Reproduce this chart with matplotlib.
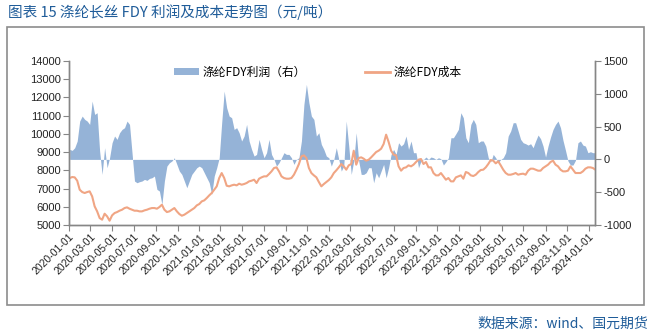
import numpy as np
import pandas as pd
import matplotlib
matplotlib.use('Agg')
import matplotlib.pyplot as plt
import matplotlib.dates as mdates
from matplotlib.patches import Rectangle, Patch
from matplotlib.lines import Line2D

# 中文字体
plt.rcParams['font.family'] = ['Liberation Sans', 'Noto Sans CJK SC', 'DejaVu Sans']
plt.rcParams['axes.unicode_minus'] = False

# 周度数据 2020-01-03 起
START_DATE = '2020-01-03'

# 涤纶FDY利润（右轴，元/吨）
profit = [
    152, 137, 178, 280, 584, 660, 610, 584, 533, 889, 686, 711, 127, -229, 178, -127,
    25, 254, 356, 305, 406, 457, 483, 584, 533, 102, -330, -356, -340, -330, -305, -320,
    -290, -280, -254, -457, -483, -686, -330, -102, -51, -25, 25, -76, -178, -229, -330, -432,
    -330, -229, -178, -127,
    -102, -127, -203, -280, -356, -533, -254, -127, 25, 559, 1041, 787, 660, 635, 457, 483,
    406, 280, 356, 533, 280, 152, 51, 76, 305, 152, 25, 102, 305, 76, 0, -102,
    -51, 25, 102, 76, 76, 25, -76, 0, 25, 280, 838, 1143, 864, 660, 610, 356,
    406, 229, 152, 51, 25,
    -102, 0, 178, 0, -178, -102, 584, 203, -229, -25, 406, -25, -229, -229, -203, -127,
    -127, -356, -203, -280, -178, -76, -280, -127, 76, 152, 76, 254, 203, 239, 356, 152,
    280, 102, 102, -127, -25, 0, 36, 0, 36, 25, 0, 25, 10, -86, -36, 25,
    330, 330, 391, 457, 711,
    635, 330, 254, 533, 610, 533, 254, 280, 280, 203, 25, -36, 76, 25, -51, 0,
    25, 102, 356, 432, 559, 559, 432, 305, 254, 239, 218, 239, 178, 280, 371, 315,
    203, 36, 203, 340, 457, 533, 584, 483, 290, 137, -25, -86, -86, -15, 254, 280,
    218, 203, 102, 117, 102, 102,
]

# 涤纶FDY成本（左轴，元/吨）
cost = [
    7577, 7632, 7614, 7431, 6937, 6808, 6754, 6808, 6845, 6570, 6022, 5747, 5381, 5290, 5619, 5473,
    5235, 5527, 5655, 5710, 5784, 5838, 5930, 5967, 5893, 5838, 5784, 5784, 5747, 5747, 5802, 5838,
    5893, 5930, 5930, 5893, 5985, 6113, 5838, 5710, 5747, 5838, 5930, 5747, 5601, 5509, 5564, 5655,
    5747, 5838, 5930, 6076,
    6150, 6296, 6351, 6479, 6625, 6754, 6937, 7120, 7577, 7850, 7577, 7156, 7120, 7174, 7211, 7174,
    7266, 7211, 7248, 7303, 7394, 7431, 7485, 7303, 7540, 7614, 7669, 7669, 7797, 7943, 8126, 8163,
    7943, 7669, 7577, 7540, 7540, 7577, 7760, 8035, 8346, 8767, 8821, 8675, 8126, 7850, 7723, 7614,
    7358, 7120, 7248, 7358, 7467,
    7614, 7850, 7998, 8163, 8346, 8218, 8035, 8273, 8346, 9078, 8310, 8675, 8712, 8638, 8529, 8584,
    8712, 8858, 9004, 9078, 9187, 9444, 9956, 9554, 9078, 8858, 8821, 8218, 7980, 8126, 8163, 8273,
    8218, 8310, 8456, 8584, 8620, 8346, 8456, 8163, 8163, 7850, 7723, 7723, 7850, 7669, 7485, 7577,
    7394, 7394, 7614, 7669, 7723,
    7540, 7907, 7852, 7723, 7687, 7760, 7907, 8016, 8035, 8163, 8346, 8565, 8529, 8383, 8492, 8273,
    8035, 7852, 7760, 7760, 7797, 7852, 7760, 7797, 7815, 7760, 7980, 8090, 8090, 8035, 7980, 7980,
    8126, 8218, 8310, 8456, 8529, 8310, 8218, 8035, 7943, 7943, 7980, 8218, 8035, 7852, 7852, 7852,
    7943, 8090, 8163, 8163, 8126, 8035,
]

PROFIT_LABEL = '涤纶FDY利润（右）'
COST_LABEL = '涤纶FDY成本'
TITLE = '图表 15 涤纶长丝 FDY 利润及成本走势图（元/吨）'
SOURCE = '数据来源：wind、国元期货'

BLUE_FILL = '#95B3D7'
ORANGE = '#F0A584'
TEXT_BLUE = '#1F5C99'
AXIS_GREY = '#868686'
CJK = ['Noto Sans CJK SC', 'DejaVu Sans']


def main():
    dates = pd.date_range(START_DATE, periods=len(cost), freq='7D')

    fig = plt.figure(figsize=(6.58, 3.36), dpi=100)
    ax = fig.add_axes([0.1049, 0.3304, 0.7994, 0.4881])
    ax2 = ax.twinx()
    # 成本线画在利润面积之上
    ax.set_zorder(ax2.get_zorder() + 1)
    ax.patch.set_visible(False)

    ax2.fill_between(dates, 0, profit, color=BLUE_FILL, lw=0)
    ax.plot(dates, cost, color=ORANGE, lw=1.5)

    ax.set_ylim(5000, 14000)
    ax.set_yticks(np.arange(5000, 14001, 1000))
    ax2.set_ylim(-1000, 1500)
    ax2.set_yticks(np.arange(-1000, 1501, 500))

    ax.set_xlim(pd.Timestamp('2020-01-01'), pd.Timestamp('2024-01-18'))
    ax.xaxis.set_major_locator(mdates.MonthLocator(bymonth=[1, 3, 5, 7, 9, 11]))
    ax.xaxis.set_major_formatter(mdates.DateFormatter('%Y-%m-%d'))
    for lbl in ax.get_xticklabels():
        lbl.set_rotation(45)
        lbl.set_ha('right')
        lbl.set_rotation_mode('anchor')

    for a in (ax, ax2):
        a.spines['top'].set_visible(False)
        for side in ('left', 'right', 'bottom'):
            a.spines[side].set_color(AXIS_GREY)
            a.spines[side].set_linewidth(1.0)
        a.tick_params(axis='both', direction='out', length=4, width=0.8,
                      color=AXIS_GREY, labelsize=8, labelcolor='#222222', pad=2)
    ax.tick_params(axis='x', labelsize=7.5, pad=1)

    handles = [Patch(facecolor=BLUE_FILL, edgecolor='none'),
               Line2D([], [], color=ORANGE, lw=2)]
    fig.legend(handles, [PROFIT_LABEL, COST_LABEL], ncol=2, frameon=False,
               loc='upper left', bbox_to_anchor=(0.264, 0.805),
               prop={'family': CJK, 'size': 8.5}, handlelength=2.1,
               handleheight=0.5, handletextpad=0.35, columnspacing=5.0,
               borderpad=0, borderaxespad=0)

    # 外框
    fig.patches.append(Rectangle((7 / 658, 1 - 305 / 336), 637 / 658, 278 / 336,
                                 transform=fig.transFigure, fill=False,
                                 edgecolor='#8C8C8C', lw=1.2))

    fig.text(8 / 658, 1 - 12 / 336, TITLE, family=CJK, fontsize=10.5,
             fontweight='medium', color=TEXT_BLUE, ha='left', va='center')
    fig.text(648 / 658, 1 - 324 / 336, SOURCE, family=CJK, fontsize=10,
             color=TEXT_BLUE, ha='right', va='center')

    fig.savefig('out.png', dpi=100)
    plt.close(fig)


if __name__ == '__main__':
    main()
